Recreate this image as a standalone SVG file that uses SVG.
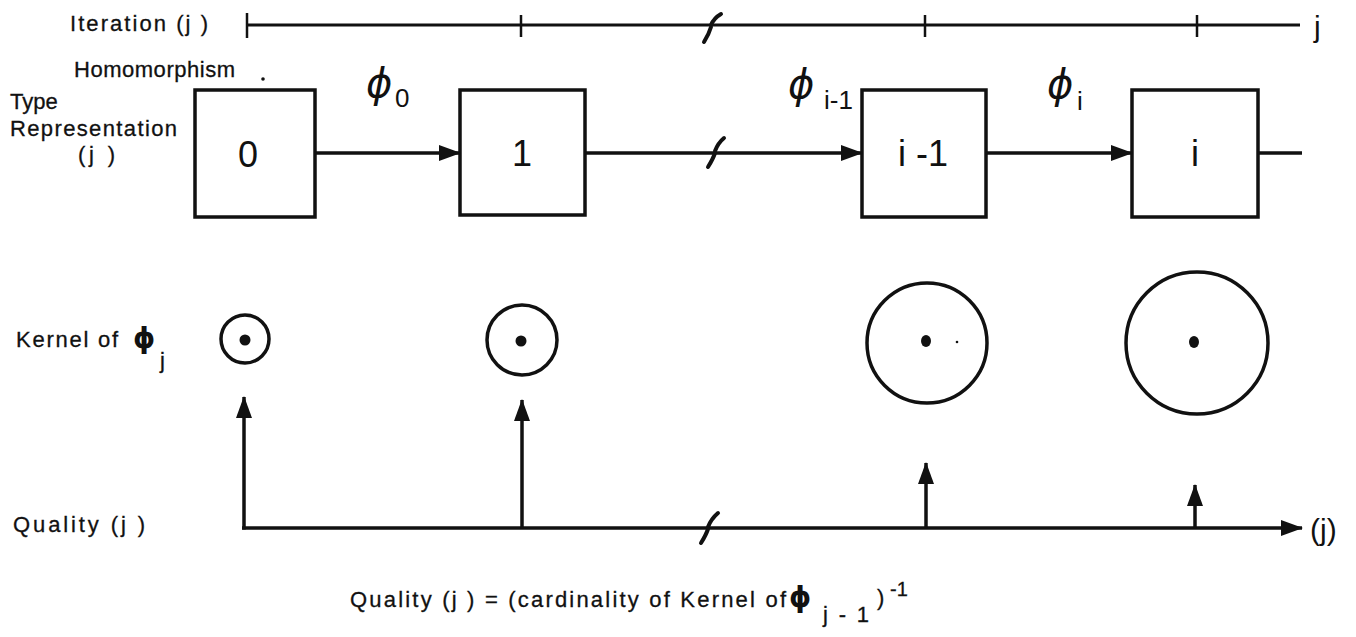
<svg xmlns="http://www.w3.org/2000/svg" width="1356" height="637" viewBox="0 0 1356 637">
<style>
text{font-family:"Liberation Sans",Arial,sans-serif;fill:#111;}
.lbl{font-size:22px;stroke:#111;stroke-width:0.3;}
.num{font-size:36px;text-anchor:middle;}
.phi{font-family:"DejaVu Sans",sans-serif;font-style:italic;font-size:40px;}
.phib{font-family:"DejaVu Sans",sans-serif;font-weight:bold;font-size:28px;}
.sub{font-size:26px;}
.ln{stroke:#111;stroke-width:3.5;fill:none;}
.box{stroke:#111;stroke-width:3.5;fill:none;}
.ring{stroke:#111;stroke-width:3.5;fill:none;}
.tick{stroke:#111;stroke-width:2.5;}
.brk{stroke:#111;stroke-width:4;fill:none;stroke-linecap:round;}
</style>
<defs>
<marker id="ah" viewBox="0 0 22 16" refX="21" refY="8" markerWidth="22" markerHeight="16" markerUnits="userSpaceOnUse" orient="auto">
<path d="M0 0 L22 8 L0 16 Z" fill="#111"/>
</marker>
</defs>
<rect width="1356" height="637" fill="#fff"/>

<g id="iteration-axis">
<text class="lbl" x="70" y="31" textLength="138" lengthAdjust="spacing">Iteration (j )</text>
<line class="ln" x1="247" y1="25" x2="1300" y2="25" style="stroke-width:3"/>
<line class="tick" x1="247" y1="13" x2="247" y2="38"/>
<line class="tick" x1="521" y1="15" x2="521" y2="37"/>
<line class="tick" x1="925" y1="15" x2="925" y2="37"/>
<line class="tick" x1="1197" y1="15" x2="1197" y2="37"/>
<path class="brk" d="M704 42 Q709 34 711 27 M711 25 Q714 18 721 14"/>
<text x="1314" y="37" style="font-size:30px">j</text>
</g>

<g id="row-labels">
<text class="lbl" x="74" y="77" textLength="161" lengthAdjust="spacing">Homomorphism</text>
<circle cx="263" cy="79" r="1.8" fill="#111"/>
<text class="lbl" x="10" y="109">Type</text>
<text class="lbl" x="10" y="136" textLength="167" lengthAdjust="spacing">Representation</text>
<text class="lbl" x="78" y="162" textLength="37" lengthAdjust="spacing">(j )</text>
</g>

<g id="node-0">
<rect class="box" x="195" y="90" width="120" height="127"/>
<text class="num" x="248" y="167">0</text>
</g>
<g id="node-1">
<rect class="box" x="460" y="90" width="125" height="125"/>
<text class="num" x="522" y="166">1</text>
</g>
<g id="node-i-1">
<rect class="box" x="862" y="90" width="124" height="127"/>
<text class="num" x="923" y="166">i -1</text>
</g>
<g id="node-i">
<rect class="box" x="1132" y="90" width="126" height="127"/>
<text class="num" x="1195" y="166">i</text>
</g>

<g id="homomorphism-labels">
<text class="phi" x="366" y="97">ϕ</text><text class="sub" x="395" y="107">0</text>
<text class="phi" x="788" y="98">ϕ</text><text class="sub" x="824" y="109">i-1</text>
<text class="phi" x="1047" y="98">ϕ</text><text class="sub" x="1077" y="110">i</text>
</g>

<g id="kernel-label">
<text class="lbl" x="16" y="347" textLength="102" lengthAdjust="spacing">Kernel of</text>
<text class="phib" x="133" y="348">ϕ</text>
<text class="lbl" x="160" y="368">j</text>
</g>

<g id="kernel-0">
<circle class="ring" cx="245" cy="339" r="24"/>
<circle cx="245" cy="340" r="5.5" fill="#111"/>
</g>
<g id="kernel-1">
<circle class="ring" cx="522" cy="340" r="35"/>
<circle cx="521" cy="341" r="5.5" fill="#111"/>
</g>
<g id="kernel-i-1">
<circle class="ring" cx="927" cy="343" r="60"/>
<ellipse cx="926" cy="341" rx="5" ry="6" fill="#111"/>
<circle cx="957" cy="342" r="1.3" fill="#111"/>
</g>
<g id="kernel-i">
<circle class="ring" cx="1197" cy="343" r="71"/>
<ellipse cx="1194" cy="342" rx="5" ry="6" fill="#111"/>
</g>

<g id="quality-labels">
<text class="lbl" x="13" y="532" textLength="132" lengthAdjust="spacing">Quality (j )</text>
<text x="1310" y="540" style="font-size:30px">(j)</text>
<text class="lbl" x="350" y="607" textLength="436" lengthAdjust="spacing">Quality (j ) = (cardinality of Kernel of</text>
<text class="phib" x="789" y="607">ϕ</text>
<text class="lbl" x="823" y="622" textLength="46" lengthAdjust="spacing">j - 1</text>
<text class="lbl" x="877" y="605">)</text>
<text x="890" y="596" style="font-size:20px;stroke:#111;stroke-width:0.3">-1</text>
</g>

<g id="connectors">
<line class="ln" x1="315" y1="153" x2="460" y2="153" marker-end="url(#ah)"/>
<line class="ln" x1="585" y1="153" x2="862" y2="153" marker-end="url(#ah)"/>
<path class="brk" d="M708 167 Q713 159 715 153 M715 151 Q718 143 724 138"/>
<line class="ln" x1="986" y1="153" x2="1132" y2="153" marker-end="url(#ah)"/>
<line class="ln" x1="1258" y1="153" x2="1302" y2="153"/>

<line class="ln" x1="242" y1="528" x2="1302" y2="528" marker-end="url(#ah)"/>
<path class="brk" d="M701 543 Q706 535 708 529 M708 527 Q711 519 718 513"/>
<line class="ln" x1="244" y1="529.5" x2="244" y2="397" marker-end="url(#ah)"/>
<line class="ln" x1="522" y1="528" x2="522" y2="400" marker-end="url(#ah)"/>
<line class="ln" x1="926" y1="528" x2="926" y2="463" marker-end="url(#ah)"/>
<line class="ln" x1="1195" y1="528" x2="1195" y2="485" marker-end="url(#ah)"/>
</g>
</svg>
